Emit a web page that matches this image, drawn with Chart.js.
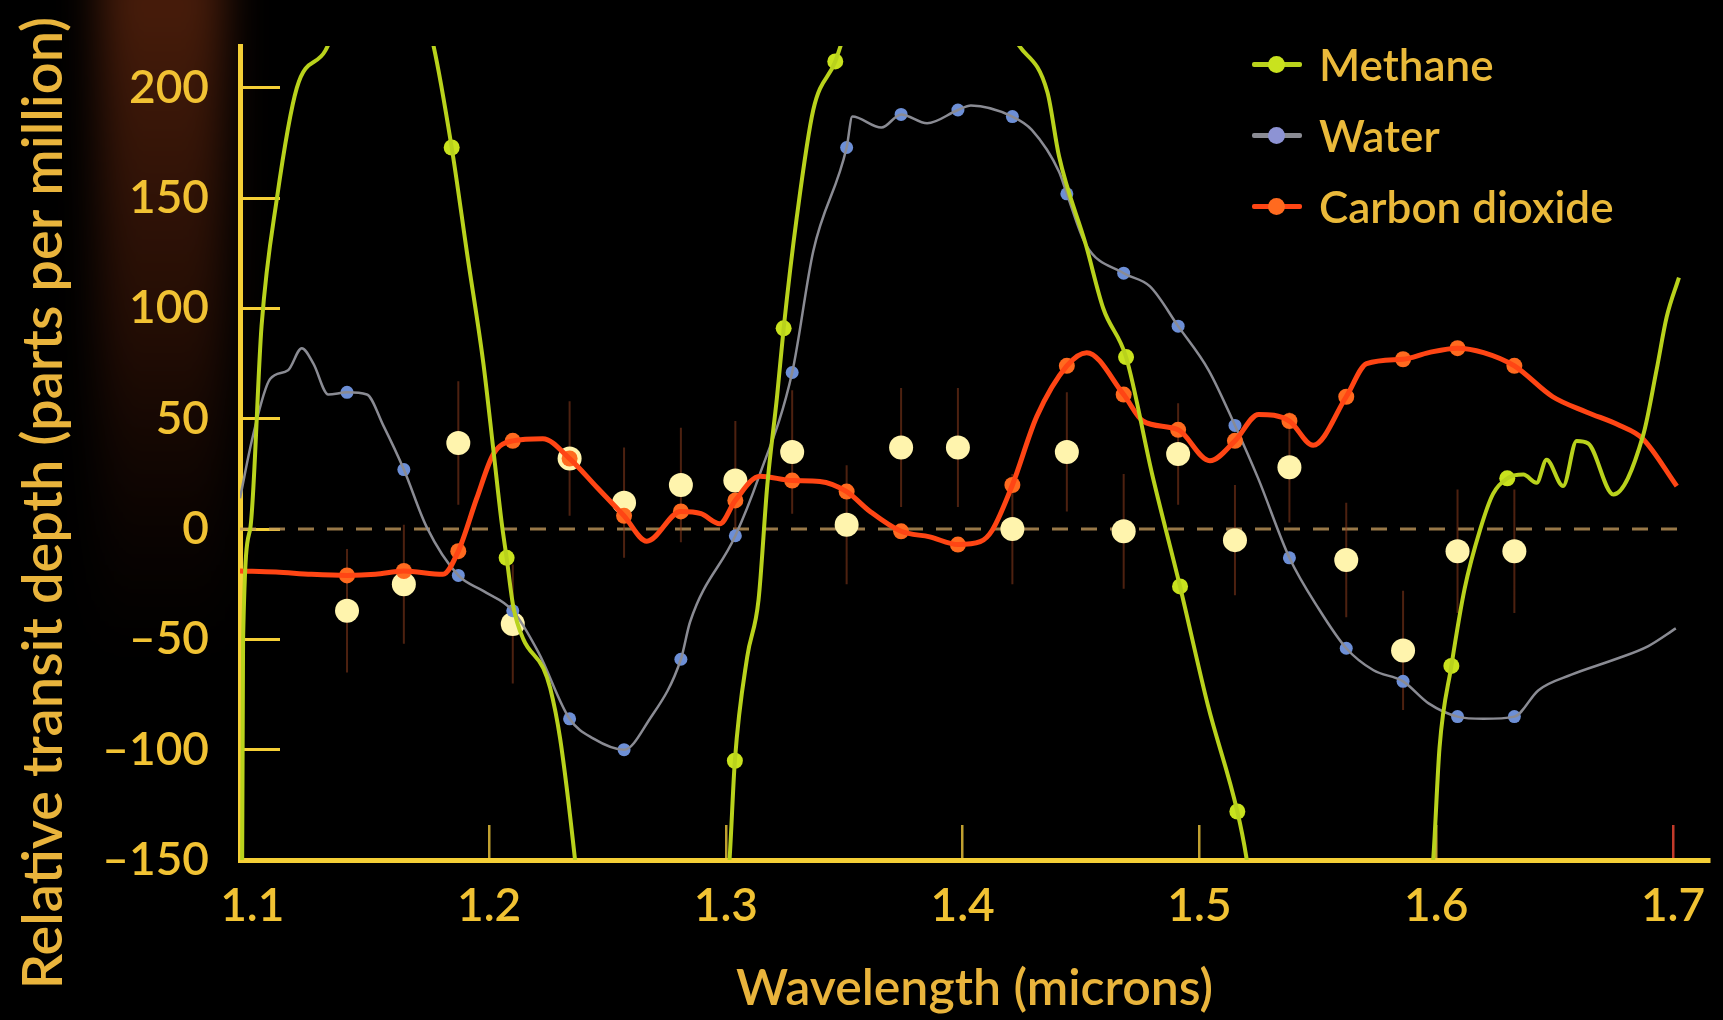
<!DOCTYPE html>
<html>
<head>
<meta charset="utf-8">
<title>Transit spectrum</title>
<script src="https://cdn.jsdelivr.net/npm/chart.js@4.4.1/dist/chart.umd.min.js"></script>
<style>
  html, body { margin: 0; padding: 0; background: #000; }
  #wrap { position: relative; width: 1723px; height: 1020px; }
  #legend { position: absolute; left: 1252px; top: 28px; font-family: Lato, sans-serif; font-weight: 600; font-size: 44px; color: #eab93a; }
  .item { display: flex; align-items: center; height: 71px; }
  .swatch { position: relative; width: 50px; height: 20px; margin-right: 17px; }
  .swatch .ln { position: absolute; left: 0; right: 0; top: 8px; height: 5px; border-radius: 2px; }
  .swatch .dot { position: absolute; left: 16px; top: 2px; width: 17px; height: 17px; border-radius: 50%; }
</style>
</head>
<body>
<div id="wrap">
  <canvas id="spectrum" width="1723" height="1020"></canvas>
  <div id="legend"></div>
</div>
<script>
var xTicks = [1.1, 1.2, 1.3, 1.4, 1.5, 1.6, 1.7];
var yTicks = [-150, -100, -50, 0, 50, 100, 150, 200];
var seriesNames = ["Methane", "Water", "Carbon dioxide"];

// spectral bins and the measured depths (ppm) with their error bars
var binWavelength = [1.140, 1.164, 1.187, 1.210, 1.234, 1.257, 1.281, 1.304, 1.328, 1.351, 1.374,
                     1.398, 1.421, 1.444, 1.468, 1.491, 1.515, 1.538, 1.562, 1.586, 1.609, 1.633];
var observedDepth = [-37, -25, 39, -43, 32, 12, 20, 22, 35, 2, 37, 37, 0, 35, -1, 34, -5, 28, -14, -55, -10, -10];
var observedError = [28, 27, 28, 27, 26, 25, 26, 27, 28, 27, 27, 27, 25, 27, 26, 23, 25, 25, 26, 27, 28, 28];

// model values at the bins
var waterBinDepth = [62, 27, -21, -37, -86, -100, -59, -3, 71, 173, 188, 190, 187, 152, 116, 92, 47, -13, -54, -69, -85, -85];
var co2BinDepth = [-21, -19, -10, 40, 32, 6, 8, 13, 22, 17, -1, -7, 20, 74, 61, 45, 40, 49, 60, 77, 82, 74];
var methaneMarkWave = [1.1842, 1.2074, 1.3038, 1.3244, 1.3462, 1.4690, 1.4918, 1.5160, 1.6064, 1.6300];
var methaneMarkDepth = [173, -13, -105, 91, 212, 78, -26, -128, -62, 23];

// model curves
var waterWave = [1.0948, 1.1002, 1.1075, 1.1151, 1.1209, 1.1258, 1.1321, 1.140, 1.1484, 1.1553, 1.164, 1.1736,
                 1.187, 1.1975, 1.210, 1.2209, 1.234, 1.2441, 1.257, 1.2673, 1.281, 1.2849, 1.304, 1.3137,
                 1.328, 1.3369, 1.351, 1.3534, 1.3657, 1.374, 1.385, 1.398, 1.4035, 1.421, 1.4292, 1.4407,
                 1.444, 1.452, 1.468, 1.4791, 1.491, 1.5039, 1.515, 1.5248, 1.538, 1.5503, 1.562, 1.5735,
                 1.586, 1.5968, 1.609, 1.620, 1.633, 1.6432, 1.6571, 1.6756, 1.6896, 1.7012];
var waterDepth = [14, 42, 68, 72, 82, 75, 61, 62, 61, 47, 27, 1,
                  -21, -28, -37, -56, -86, -95, -100, -87, -59, -42, -3, 23,
                  71, 126, 173, 187, 182, 188, 184, 190, 192, 187, 181, 162,
                  152, 129, 116, 110, 92, 72, 47, 23, -13, -36, -54, -64,
                  -69, -79, -85, -86, -85, -73, -66, -59, -53, -45];

var co2Wave = [1.0948, 1.110, 1.125, 1.140, 1.152, 1.164, 1.1805, 1.187, 1.1948, 1.2018, 1.210, 1.2227,
               1.234, 1.2455, 1.257, 1.2666, 1.281, 1.2895, 1.2974, 1.304, 1.3144, 1.328, 1.3397, 1.351,
               1.3609, 1.374, 1.3861, 1.398, 1.4074, 1.4125, 1.421, 1.4313, 1.444, 1.4524, 1.468, 1.4761,
               1.491, 1.5044, 1.515, 1.525, 1.538, 1.548, 1.562, 1.5706, 1.586, 1.5968, 1.609, 1.620,
               1.633, 1.6492, 1.6636, 1.6775, 1.6872, 1.7016];
var co2Depth = [-19, -19.5, -20.5, -21, -20.5, -19, -20.5, -10, 14, 34, 40, 41,
                32, 19, 6, -5.5, 8, 7, 2.4, 13, 24, 22, 21.6, 17,
                8, -1, -3.5, -7, -5.7, -0.5, 20, 51, 74, 80, 61, 49,
                45, 31, 40, 52, 49, 38, 60, 75, 77, 80, 82, 80,
                74, 60, 53, 47, 41, 19.5];

var methaneWave = [1.0955, 1.0961, 1.0991, 1.1039, 1.1104, 1.1188, 1.1309, 1.142, 1.155, 1.168, 1.1759, 1.1842,
                   1.1907, 1.1976, 1.2019, 1.2053, 1.2074, 1.2102, 1.2145, 1.2229, 1.2258, 1.2300, 1.2362, 1.240,
                   1.268, 1.2985, 1.3016, 1.3038, 1.3090, 1.3138, 1.3175, 1.3216, 1.3244, 1.3299, 1.3369, 1.3462,
                   1.3499, 1.360, 1.385, 1.410, 1.4213, 1.4358, 1.4407, 1.452, 1.4594, 1.469, 1.480, 1.4918,
                   1.5036, 1.516, 1.5197, 1.525, 1.560, 1.595, 1.5989, 1.6014, 1.6064, 1.612, 1.6186, 1.624,
                   1.630, 1.6368, 1.6424, 1.6466, 1.6536, 1.6593, 1.6642, 1.6748, 1.6874, 1.6931, 1.6973, 1.7025];
var methaneDepth = [-220, -50, 0, 92, 150, 200, 217, 245, 262, 245, 222, 173,
                    125, 75, 35, 3, -13, -35, -50, -63, -72, -95, -149, -190,
                    -260, -190, -149, -105, -58, -32, 20, 60, 91, 141, 190, 212,
                    224, 260, 300, 260, 224, 198, 169, 129, 100, 78, 25, -26,
                    -80, -128, -148, -190, -280, -200, -147, -99, -62, -27, 0, 16,
                    23, 24.7, 21, 31.4, 19.5, 39.9, 38.8, 15.7, 42.6, 72.4, 96, 114];

var zeroWave = [1.0948, 1.706];
var zeroDepth = [0, 0];

function pairs(xs, ys) {
  return xs.map(function (x, i) { return { x: x, y: ys[i] }; });
}

var errorPoints = [];
binWavelength.forEach(function (w, i) {
  errorPoints.push({ x: w, y: observedDepth[i] - observedError[i] });
  errorPoints.push({ x: w, y: observedDepth[i] + observedError[i] });
  errorPoints.push({ x: w, y: null });
});

var axisYellow = "#f5cf36";
var tickGold = "#f1c233";
var titleGold = "#e9b43c";

var methaneColor = "#b9d21c", methaneDot = "#c9e21e";
var waterColor = "#8a8b93", waterDot = "#6d8fd6";
var co2Color = "#ff4514", co2Dot = "#ff6a1f";

var backdrop = {
  id: "backdrop",
  beforeDraw: function (chart) {
    var ctx = chart.ctx;
    ctx.save();
    ctx.fillStyle = "#000";
    ctx.fillRect(0, 0, chart.width, chart.height);
    ctx.filter = "blur(20px)";
    var g = ctx.createLinearGradient(0, 0, 0, 660);
    g.addColorStop(0, "rgba(95,38,14,0.75)");
    g.addColorStop(0.5, "rgba(70,26,9,0.5)");
    g.addColorStop(1, "rgba(40,12,4,0)");
    ctx.fillStyle = g;
    ctx.fillRect(100, -40, 125, 700);
    ctx.restore();
  },
  afterDraw: function (chart) {
    var ctx = chart.ctx;
    ctx.save();
    ctx.translate(44, 503);
    ctx.rotate(-Math.PI / 2);
    ctx.font = "600 56px Lato";
    ctx.fillStyle = titleGold;
    ctx.textAlign = "center";
    ctx.textBaseline = "middle";
    ctx.fillText("Relative transit depth (parts per million)", 0, 0);
    ctx.restore();
  }
};

var curve = { pointRadius: 0, cubicInterpolationMode: "monotone", fill: false };

var config = {
  type: "line",
  data: {
    datasets: [
      Object.assign({ label: seriesNames[0], data: pairs(methaneWave, methaneDepth), borderColor: methaneColor, borderWidth: 4, order: 1 }, curve),
      { label: "", data: pairs(methaneMarkWave, methaneMarkDepth), showLine: false, pointRadius: 8, pointBackgroundColor: methaneDot, pointBorderWidth: 0, order: 1 },
      Object.assign({ label: seriesNames[2], data: pairs(co2Wave, co2Depth), borderColor: co2Color, borderWidth: 5, order: 2 }, curve),
      { label: "", data: pairs(binWavelength, co2BinDepth), showLine: false, pointRadius: 8, pointBackgroundColor: co2Dot, pointBorderWidth: 0, order: 2 },
      Object.assign({ label: seriesNames[1], data: pairs(waterWave, waterDepth), borderColor: waterColor, borderWidth: 2.5, order: 3 }, curve),
      { label: "", data: pairs(binWavelength, waterBinDepth), showLine: false, pointRadius: 6.5, pointBackgroundColor: waterDot, pointBorderWidth: 0, order: 3 },
      { label: "", data: pairs(binWavelength, observedDepth), showLine: false, pointRadius: 12, pointBackgroundColor: "#fff4ad", pointBorderWidth: 0, order: 4 },
      { label: "", data: errorPoints, spanGaps: false, pointRadius: 0, borderColor: "rgba(140,60,30,0.55)", borderWidth: 2, order: 5 },
      { label: "", data: pairs(zeroWave, zeroDepth), pointRadius: 0, borderColor: "rgba(190,150,90,0.8)", borderWidth: 3, borderDash: [16, 13], order: 6 }
    ]
  },
  options: {
    responsive: false,
    animation: false,
    events: [],
    layout: { padding: { top: 46, right: 14, left: 0, bottom: 0 } },
    plugins: { legend: { display: false }, tooltip: { enabled: false } },
    scales: {
      x: {
        type: "linear",
        min: 1.0948,
        max: 1.7152,
        afterBuildTicks: function (axis) { axis.ticks = xTicks.map(function (v) { return { value: v }; }); },
        afterFit: function (axis) { axis.height = 160; axis.paddingLeft = 0; axis.paddingRight = 0; },
        border: { display: true, color: axisYellow, width: 5 },
        grid: {
          drawOnChartArea: false,
          drawTicks: true,
          tickLength: -35,
          lineWidth: 2.5,
          color: function (c) {
            if (!c.tick) return "rgba(0,0,0,0)";
            if (c.tick.value === 1.1) return "rgba(0,0,0,0)";
            if (c.tick.value === 1.7) return "#c23a2a";
            return "rgba(240,200,60,0.8)";
          }
        },
        ticks: {
          color: tickGold,
          font: { family: "Lato", size: 46, weight: "600" },
          padding: 54,
          maxRotation: 0,
          autoSkip: false,
          callback: function (v) { return v.toFixed(1); }
        },
        title: { display: true, text: "Wavelength (microns)", color: titleGold, font: { family: "Lato", size: 50, weight: "600" }, padding: { top: 0, bottom: 1 } }
      },
      y: {
        type: "linear",
        min: -150,
        max: 219,
        afterBuildTicks: function (axis) { axis.ticks = yTicks.map(function (v) { return { value: v }; }); },
        afterFit: function (axis) { axis.width = 240; axis.paddingTop = 0; axis.paddingBottom = 0; },
        border: { display: true, color: axisYellow, width: 5 },
        grid: {
          drawOnChartArea: false,
          drawTicks: true,
          tickLength: -40,
          lineWidth: 3,
          color: function (c) {
            if (!c.tick || c.tick.value === -150) return "rgba(0,0,0,0)";
            return axisYellow;
          }
        },
        ticks: {
          color: tickGold,
          font: { family: "Lato", size: 46, weight: "600" },
          padding: 71,
          callback: function (v) { return v < 0 ? "\u2013" + Math.abs(v) : String(v); }
        }
      }
    }
  },
  plugins: [backdrop]
};

var spectrumChart = new Chart(document.getElementById("spectrum"), config);

// legend: line with a dot, as in the figure
var legendBox = document.getElementById("legend");
[[0, methaneColor, methaneDot], [1, waterColor, "#8d93d4"], [2, co2Color, co2Dot]].forEach(function (s) {
  var item = document.createElement("div");
  item.className = "item";
  var sw = document.createElement("span");
  sw.className = "swatch";
  var ln = document.createElement("span");
  ln.className = "ln";
  ln.style.background = s[1];
  var dot = document.createElement("span");
  dot.className = "dot";
  dot.style.background = s[2];
  sw.appendChild(ln);
  sw.appendChild(dot);
  var txt = document.createElement("span");
  txt.textContent = seriesNames[s[0]];
  item.appendChild(sw);
  item.appendChild(txt);
  legendBox.appendChild(item);
});
</script>
</body>
</html>
